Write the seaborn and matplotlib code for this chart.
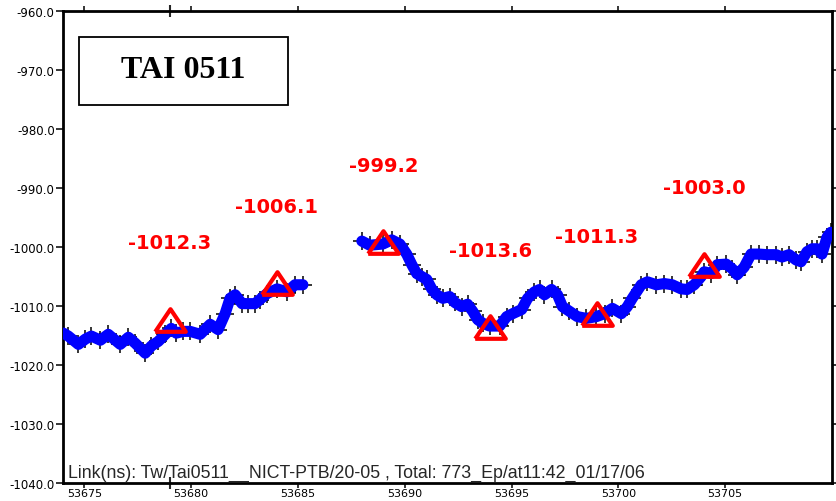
import matplotlib
matplotlib.use("Agg")
import matplotlib.pyplot as plt
import pandas as pd
import seaborn as sns
from matplotlib.markers import MarkerStyle
from matplotlib.patches import Rectangle
from matplotlib.ticker import FixedLocator, FormatStrFormatter

# Link time difference (ns) versus MJD, first block of epochs
mjd_a = [53674.02, 53674.25, 53674.72, 53675.05, 53675.33, 53675.75, 53676.12,
         53676.68, 53677.06, 53677.38, 53677.85, 53678.13, 53678.46, 53678.79,
         53679.07, 53679.30, 53679.63, 53679.95, 53680.42, 53680.89, 53681.26,
         53681.59, 53681.82, 53682.06, 53682.38, 53682.66, 53682.99, 53683.22,
         53683.55, 53684.02, 53684.49, 53684.86, 53685.23]
ns_a = [-1014.6, -1015.1, -1016.5, -1015.6, -1015.1, -1015.8, -1014.8,
        -1016.5, -1015.3, -1016.3, -1018.0, -1016.8, -1016.0, -1014.8,
        -1013.8, -1014.6, -1014.3, -1014.3, -1014.8, -1013.1, -1014.0,
        -1011.3, -1008.7, -1008.1, -1009.6, -1009.6, -1009.6, -1008.9,
        -1007.9, -1007.1, -1007.6, -1006.4, -1006.4]

# Second block of epochs after the data gap
mjd_b = [53687.99, 53688.36, 53688.97, 53689.39, 53689.77, 53690.09, 53690.33,
         53690.56, 53690.79, 53691.03, 53691.26, 53691.50, 53691.78, 53692.10,
         53692.34, 53692.66, 53692.94, 53693.18, 53693.41, 53693.64, 53693.97,
         53694.44, 53694.77, 53695.05, 53695.47, 53695.75, 53696.07, 53696.31,
         53696.54, 53696.87, 53697.15, 53697.38, 53697.71, 53698.08, 53698.50,
         53698.97, 53699.35, 53699.72, 53700.14, 53700.42, 53700.65, 53701.07,
         53701.36, 53701.78, 53702.15, 53702.52, 53702.94, 53703.22, 53703.55,
         53703.88, 53704.02, 53704.35, 53704.63, 53705.05, 53705.33, 53705.56,
         53705.89, 53706.21, 53706.59, 53706.96, 53707.38, 53707.66, 53707.99,
         53708.32, 53708.55, 53708.83, 53709.07, 53709.30, 53709.53, 53709.77,
         53709.95]
ns_b = [-999.0, -999.7, -999.5, -998.8, -999.5, -1001.2, -1003.0,
        -1004.5, -1005.0, -1005.5, -1007.1, -1008.1, -1008.7, -1008.4,
        -1009.4, -1010.1, -1009.7, -1010.9, -1012.3, -1012.9, -1013.4,
        -1013.4, -1011.8, -1011.3, -1010.6, -1008.7, -1007.6, -1007.2,
        -1008.1, -1007.2, -1008.1, -1010.1, -1010.9, -1011.8, -1012.1,
        -1011.8, -1011.3, -1010.4, -1011.3, -1010.1, -1008.7, -1006.4,
        -1005.9, -1006.4, -1006.2, -1006.4, -1007.1, -1007.2, -1006.4,
        -1005.0, -1004.2, -1004.5, -1003.0, -1002.9, -1003.7, -1004.7,
        -1003.4, -1001.2, -1001.2, -1001.3, -1001.3, -1001.7, -1001.3,
        -1002.2, -1002.5, -1000.8, -1000.3, -1000.3, -1001.2, -998.3,
        -997.5]

# Daily reference values marked with triangles
tri_mjd = [53679, 53684, 53689, 53694, 53699, 53704]
tri_ns = [-1012.3, -1006.1, -999.2, -1013.6, -1011.3, -1003.0]

x_ticks = [53675, 53680, 53685, 53690, 53695, 53700, 53705]
y_ticks = [-960, -970, -980, -990, -1000, -1010, -1020, -1030, -1040]
cursor_mjd = [53679]

title_text = "TAI 0511"
footer_text = "Link(ns): Tw/Tai0511__NICT-PTB/20-05 , Total: 773_Ep/at11:42_01/17/06"

sns.set_style("white")
plt.rcParams["font.family"] = ["DejaVu Sans"]

W, H = 837, 502
fig = plt.figure(figsize=(W / 100, H / 100), dpi=100)
ax = fig.add_axes([63 / W, 18 / H, 769 / W, 472 / H])

df = pd.DataFrame({
    "mjd": mjd_a + mjd_b,
    "ns": ns_a + ns_b,
    "seg": ["a"] * len(mjd_a) + ["b"] * len(mjd_b),
})

sns.scatterplot(data=df, x="mjd", y="ns", marker="+", color="black",
                s=160, linewidth=1.1, ax=ax, zorder=2, legend=False)
sns.lineplot(data=df, x="mjd", y="ns", units="seg", estimator=None,
             color="#0000ff", linewidth=8.0, sort=False, ax=ax, zorder=3,
             legend=False)
for line in ax.get_lines():
    line.set_solid_joinstyle("round")
    line.set_solid_capstyle("round")

tri = MarkerStyle([(-1, -0.74), (1, -0.74), (0, 0.74), (-1, -0.74)],
                  joinstyle="miter")
ax.plot(tri_mjd, tri_ns, linestyle="none", marker=tri, markersize=22,
        markerfacecolor="none", markeredgecolor="#ff0000",
        markeredgewidth=3.0, zorder=4)

for xm, yv in zip(tri_mjd, tri_ns):
    ax.text(xm, yv + 13, f"{yv:.1f}", color="#ff0000", fontsize=14,
            fontweight="bold", ha="center", va="center", zorder=5)

ax.add_patch(Rectangle((0.0208, 0.8017), 0.2718, 0.143, transform=ax.transAxes,
                       fill=False, edgecolor="black", linewidth=1.3, zorder=5))
ax.text(0.156, 0.876, title_text, transform=ax.transAxes, ha="center",
        va="center", fontsize=23, fontweight="bold", color="black",
        family=["Liberation Serif"], zorder=6)

ax.text(0.0065, 0.013, footer_text, transform=ax.transAxes, ha="left",
        va="baseline", fontsize=12.8, family=["Liberation Sans"], zorder=6)

ax.set_xlim(53674.0, 53710.0)
ax.set_ylim(-1040, -960)
ax.set_xlabel("")
ax.set_ylabel("")
ax.xaxis.set_major_locator(FixedLocator(x_ticks))
ax.xaxis.set_minor_locator(FixedLocator(cursor_mjd))
ax.yaxis.set_major_locator(FixedLocator(y_ticks))
ax.yaxis.set_major_formatter(FormatStrFormatter("%.1f"))
ax.xaxis.set_major_formatter(FormatStrFormatter("%d"))

for s in ax.spines.values():
    s.set_linewidth(2.0)
    s.set_color("black")

ax.tick_params(axis="x", which="major", direction="out", length=3.5, width=1.1,
               top=True, bottom=True, labelsize=8, pad=0, colors="black")
ax.tick_params(axis="x", which="minor", direction="inout", length=9, width=1.5,
               top=True, bottom=True)
ax.tick_params(axis="y", which="major", direction="out", length=5, width=1.1,
               left=True, right=True, labelsize=8.5, pad=1, colors="black")
ax.tick_params(axis="y", which="major", right=True, labelright=False)

fig.savefig("out.png", dpi=100, facecolor="white")
